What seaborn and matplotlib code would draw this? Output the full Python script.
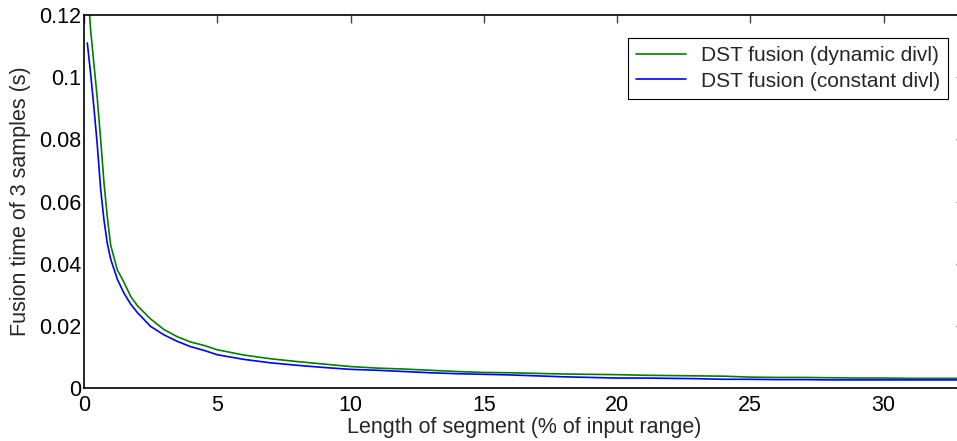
import matplotlib
matplotlib.use('Agg')
import matplotlib.pyplot as plt
import matplotlib.ticker as mticker
import seaborn as sns
import pandas as pd

# segment length (% of input range)
seg_len = [0.125, 0.25, 0.375, 0.5, 0.625, 0.75, 0.875, 1.0, 1.25, 1.5, 1.75, 2.0,
           2.5, 3.0, 3.5, 4.0, 4.5, 5, 6, 7, 8, 9, 10, 11, 12, 13, 14, 15, 16, 17,
           18, 19, 20, 21, 22, 23, 24, 25, 26, 27, 28, 29, 30, 31, 32, 33]

# fusion time (s)
t_dynamic = [0.131, 0.115, 0.104, 0.093, 0.080, 0.066, 0.055, 0.046, 0.038, 0.0340,
             0.0295, 0.0265, 0.0222, 0.0188, 0.0165, 0.0148, 0.0137, 0.0123, 0.0106,
             0.0094, 0.0085, 0.0077, 0.0069, 0.0064, 0.0061, 0.0057, 0.0053, 0.0050,
             0.0049, 0.0047, 0.0045, 0.0044, 0.0043, 0.0041, 0.0040, 0.0039, 0.0038,
             0.0035, 0.0034, 0.0034, 0.0033, 0.0032, 0.0032, 0.0031, 0.0031, 0.0031]
t_constant = [0.111, 0.101, 0.090, 0.078, 0.064, 0.054, 0.0465, 0.0415, 0.0350, 0.0305,
              0.0270, 0.0243, 0.0198, 0.0171, 0.0150, 0.0133, 0.0121, 0.0107, 0.0092,
              0.0081, 0.0073, 0.0066, 0.0060, 0.0057, 0.0053, 0.0049, 0.0046, 0.0044,
              0.0042, 0.0039, 0.0036, 0.0034, 0.0032, 0.0032, 0.0031, 0.0030, 0.0028,
              0.0028, 0.0027, 0.0027, 0.0026, 0.0026, 0.0026, 0.0026, 0.0026, 0.0026]

labels = ['DST fusion (dynamic divl)', 'DST fusion (constant divl)']
colors = ['#008000', '#0000ff']

df = pd.concat([
    pd.DataFrame({'x': seg_len, 'y': t_dynamic, 'serie': labels[0]}),
    pd.DataFrame({'x': seg_len, 'y': t_constant, 'serie': labels[1]}),
])

sns.set_style('white')
plt.rcParams['font.family'] = ['Liberation Sans', 'DejaVu Sans']

fig = plt.figure(figsize=(9.57, 4.41), dpi=100)
ax = fig.add_axes([84/957, 53/441, 879.5/957, 373/441])

sns.lineplot(data=df, x='x', y='y', hue='serie', palette=colors, linewidth=1.2, ax=ax)

ax.set_xlim(0, 33)
ax.set_ylim(0, 0.12)
ax.set_xticks([0, 5, 10, 15, 20, 25, 30])
ax.set_yticks([0, 0.02, 0.04, 0.06, 0.08, 0.1, 0.12])
ax.yaxis.set_major_formatter(mticker.FormatStrFormatter('%g'))
ax.tick_params(direction='in', length=6, width=1, colors='#444444', labelcolor='black',
               labelsize=15.5, top=True, right=True, pad=2)
ax.tick_params(axis='x', pad=5)
for s in ax.spines.values():
    s.set_color('black')
    s.set_linewidth(1.2)

ax.set_xlabel('Length of segment (% of input range)', fontsize=15.5, labelpad=1)
ax.set_ylabel('Fusion time of 3 samples (s)', fontsize=15.5, labelpad=6)

leg = ax.legend(loc='upper right', bbox_to_anchor=(948/957, 1 - 38/441),
                bbox_transform=fig.transFigure, borderaxespad=0, fontsize=15,
                fancybox=False, framealpha=1, edgecolor='black', handlelength=2.4,
                handletextpad=0.7, borderpad=0.4, labelspacing=0.3)
leg.get_frame().set_linewidth(0.8)

plt.savefig('out.png', dpi=100)
